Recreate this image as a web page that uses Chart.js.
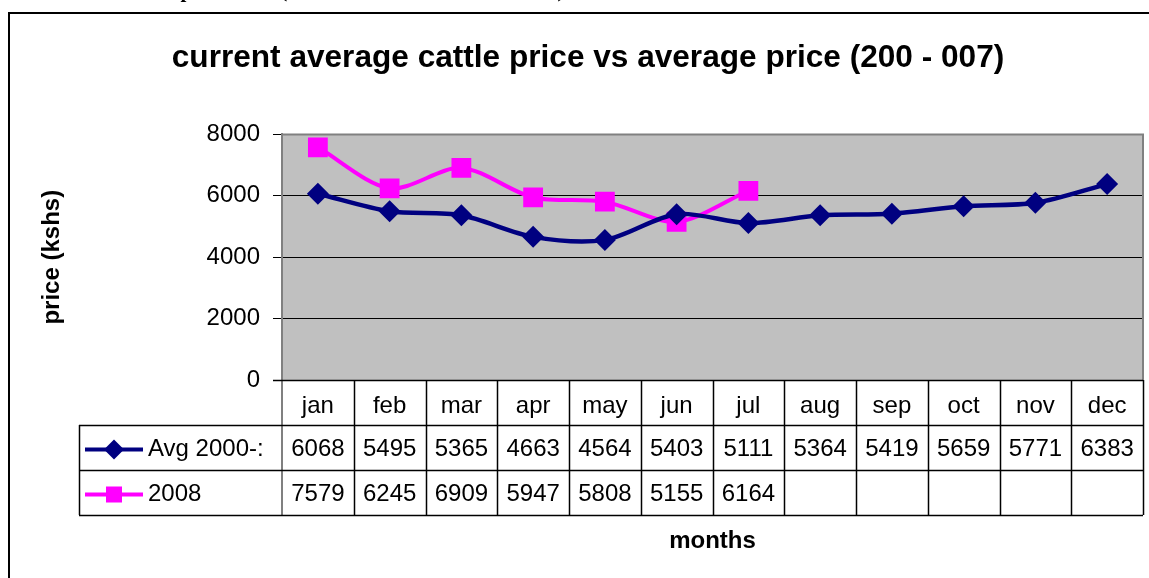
<!DOCTYPE html>
<html>
<head>
<meta charset="utf-8">
<script src="https://cdn.jsdelivr.net/npm/chart.js@4.4.1/dist/chart.umd.min.js"></script>
<style>
  html, body { margin: 0; padding: 0; background: #fff; overflow: hidden; }
  #wrap { position: relative; width: 1149px; height: 578px; overflow: hidden; }
  #cap { position: absolute; left: 43px; top: -22px; font: bold 21px "Liberation Serif", "Times New Roman", serif; line-height: normal; color: #000; white-space: nowrap; word-spacing: 2px; }
  canvas { position: absolute; left: 0; top: 0; }
</style>
</head>
<body>
<div id="wrap">
  <canvas id="c" width="1157" height="578"></canvas>
  <div id="cap">Table 3: cattle price data (current 2008 and 2000 - 2007)</div>
</div>
<script>
const months = ['jan','feb','mar','apr','may','jun','jul','aug','sep','oct','nov','dec'];
const avgLabel = 'Avg 2000-:';
const avgValues = [6068, 5495, 5365, 4663, 4564, 5403, 5111, 5364, 5419, 5659, 5771, 6383];
const curLabel = '2008';
const curValues = [7579, 6245, 6909, 5947, 5808, 5155, 6164, null, null, null, null, null];
const yTicks = [0, 2000, 4000, 6000, 8000];
const chartTitle = 'current average cattle price vs average price (200 - 007)';
const yTitle = 'price (kshs)';
const xTitle = 'months';

const NAVY = '#000080', MAGENTA = '#FF00FF';
const FONT = '"Liberation Sans", Arial, sans-serif';
const ROW_H = 45;

const tablePlugin = {
  id: 'tablePlugin',
  beforeDraw(chart) {
    const {ctx, chartArea: a} = chart;
    ctx.save();
    ctx.strokeStyle = '#000';
    ctx.lineWidth = 2;
    ctx.beginPath();
    ctx.moveTo(9, 578); ctx.lineTo(9, 13); ctx.lineTo(1157, 13);
    ctx.stroke();
    ctx.fillStyle = '#C0C0C0';
    ctx.fillRect(a.left, a.top, a.right - a.left, a.bottom - a.top);
    ctx.restore();
  },
  afterDraw(chart) {
    const {ctx, chartArea: a, scales: {x}} = chart;
    const n = months.length;
    const w = (a.right - a.left) / n;
    const r0 = a.bottom, r1 = r0 + ROW_H, r2 = r1 + ROW_H, r3 = r2 + ROW_H;
    const tLeft = 79;
    ctx.save();
    ctx.strokeStyle = '#808080';
    ctx.lineWidth = 2;
    ctx.beginPath();
    ctx.moveTo(a.left, a.top); ctx.lineTo(a.right, a.top); ctx.lineTo(a.right, a.bottom);
    ctx.stroke();
    ctx.beginPath();
    ctx.moveTo(a.left, a.top); ctx.lineTo(a.left, r3);
    ctx.stroke();
    ctx.strokeStyle = '#000';
    ctx.lineWidth = 1.5;
    ctx.beginPath();
    ctx.moveTo(a.left - 9, r0 + 0.5); ctx.lineTo(a.right, r0 + 0.5);
    [r1, r2, r3].forEach(y => { ctx.moveTo(tLeft, y + 0.5); ctx.lineTo(a.right, y + 0.5); });
    ctx.moveTo(tLeft + 0.5, r1); ctx.lineTo(tLeft + 0.5, r3);
    for (let k = 1; k <= n; k++) {
      const xx = Math.round(a.left + k * w) + 0.5;
      ctx.moveTo(xx, r0); ctx.lineTo(xx, r3);
    }
    ctx.stroke();
    ctx.fillStyle = '#000';
    ctx.font = '24px ' + FONT;
    ctx.textAlign = 'center';
    ctx.textBaseline = 'middle';
    chart.data.datasets.forEach((ds, di) => {
      const yc = (di === 0 ? r1 : r2) + ROW_H / 2 + 2;
      ds.data.forEach((v, i) => {
        if (v === null) return;
        ctx.fillText(String(v), x.getPixelForValue(i), yc);
      });
      ctx.strokeStyle = ds.borderColor;
      ctx.lineWidth = 4;
      ctx.beginPath();
      ctx.moveTo(85, yc); ctx.lineTo(143, yc);
      ctx.stroke();
      ctx.fillStyle = ds.pointBackgroundColor;
      if (ds.pointStyle === 'rectRot') {
        const s = 10;
        ctx.beginPath();
        ctx.moveTo(114, yc - s); ctx.lineTo(114 + s, yc); ctx.lineTo(114, yc + s); ctx.lineTo(114 - s, yc);
        ctx.closePath(); ctx.fill();
      } else {
        ctx.fillRect(114 - 8, yc - 8, 16, 16);
      }
      ctx.fillStyle = '#000';
      ctx.textAlign = 'left';
      ctx.fillText(ds.label, 148, yc);
      ctx.textAlign = 'center';
    });
    ctx.restore();
  }
};

new Chart(document.getElementById('c'), {
  type: 'line',
  data: {
    labels: months,
    datasets: [
      { label: avgLabel, data: avgValues, borderColor: NAVY, backgroundColor: NAVY,
        pointBackgroundColor: NAVY, pointBorderColor: NAVY, pointStyle: 'rectRot',
        pointRadius: 11, pointBorderWidth: 0, borderWidth: 4.5, tension: 0.3 },
      { label: curLabel, data: curValues, borderColor: MAGENTA, backgroundColor: MAGENTA,
        pointBackgroundColor: MAGENTA, pointBorderColor: MAGENTA, pointStyle: 'rect',
        pointRadius: 14, pointBorderWidth: 0, borderWidth: 4, tension: 0.3 }
    ]
  },
  options: {
    responsive: false,
    animation: false,
    devicePixelRatio: 1,
    layout: { padding: { left: 25, right: 6, top: 0, bottom: 0 } },
    plugins: {
      legend: { display: false },
      tooltip: { enabled: false },
      title: { display: true, text: chartTitle, color: '#000',
        font: { family: FONT, size: 31.6, weight: 'bold' },
        padding: { top: 39, bottom: 57.5 } }
    },
    scales: {
      x: {
        offset: true,
        grid: { display: false },
        border: { display: false },
        ticks: { color: '#000', font: { family: FONT, size: 24, lineHeight: 1.5 }, padding: 0, maxRotation: 0, autoSkip: false },
        title: { display: true, text: xTitle, color: '#000', font: { family: FONT, size: 24, weight: 'bold' }, padding: { top: 0, bottom: 22 } },
        afterFit(s) { s.height = 198; s.paddingLeft = 0; s.paddingRight = 0; }
      },
      y: {
        min: 0, max: 8000,
        afterBuildTicks(s) { s.ticks = yTicks.map(v => ({ value: v })); },
        grid: { color: c => (c.tick && c.tick.value === 8000 ? '#808080' : '#000'), tickColor: '#000', tickLength: 9, lineWidth: 1 },
        border: { display: true, color: '#808080', width: 2 },
        ticks: { color: '#000', font: { family: FONT, size: 24 }, padding: 13, callback: v => String(v) },
        title: { display: true, text: yTitle, color: '#000', font: { family: FONT, size: 24, weight: 'bold' }, padding: { top: 13, bottom: 0 } },
        afterFit(s) { s.width = 257; }
      }
    }
  },
  plugins: [tablePlugin]
});
</script>
</body>
</html>
